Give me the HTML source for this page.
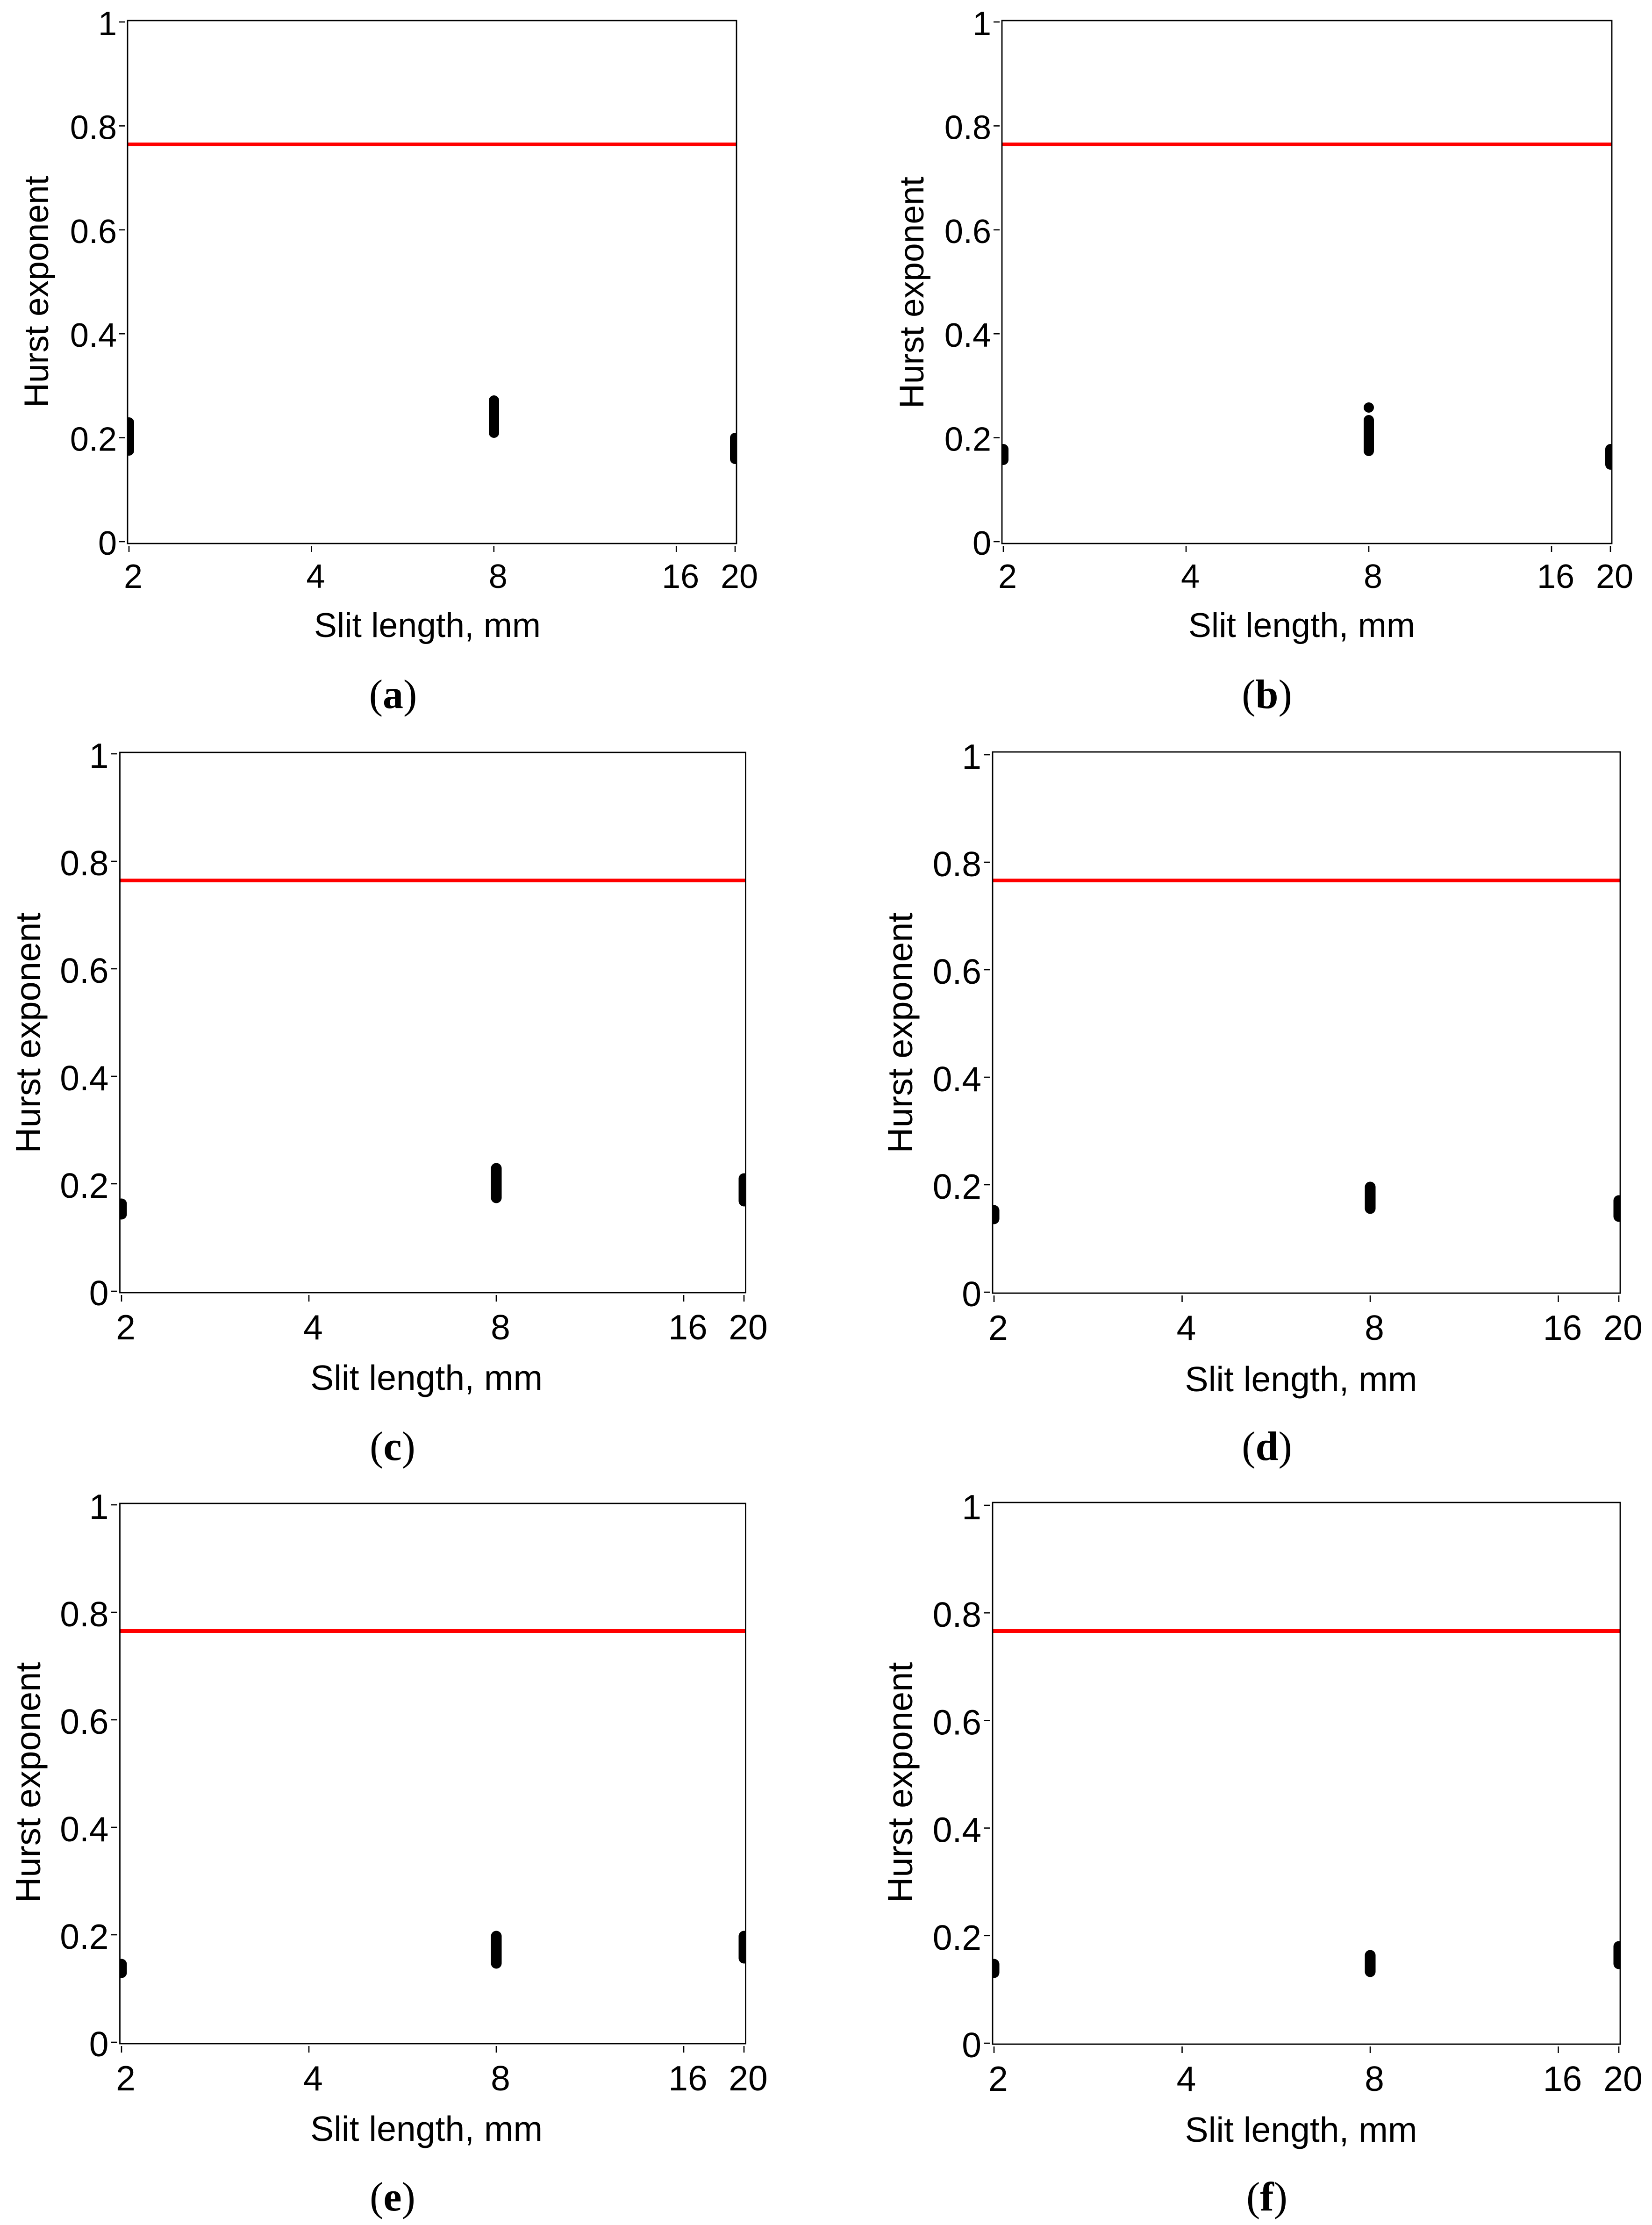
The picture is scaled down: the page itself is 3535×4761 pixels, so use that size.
<!DOCTYPE html>
<html>
<head>
<meta charset="utf-8">
<style>
html,body{margin:0;padding:0;background:#fff;}
svg{display:block;}
.t{font-family:"Liberation Sans",Arial,sans-serif;fill:#000;}
.cap{font-family:"Liberation Serif","Times New Roman",serif;fill:#000;font-size:88px;}
</style>
</head>
<body>
<svg xmlns="http://www.w3.org/2000/svg" width="3535" height="4761" viewBox="0 0 3535 4761">
<rect x="0" y="0" width="3535" height="4761" fill="#fff"/>
<defs>
<clipPath id="ca"><rect x="273" y="44" width="1303" height="1119"/></clipPath>
<clipPath id="cb"><rect x="2144" y="44" width="1305" height="1119"/></clipPath>
<clipPath id="cc"><rect x="256.5" y="1610" width="1339" height="1156"/></clipPath>
<clipPath id="cd"><rect x="2124" y="1609" width="1343" height="1158"/></clipPath>
<clipPath id="ce"><rect x="256.5" y="3217" width="1339" height="1156"/></clipPath>
<clipPath id="cf"><rect x="2124" y="3215" width="1343" height="1159"/></clipPath>
</defs>

<!-- ================= Panel a ================= -->
<g>
<line x1="273" y1="309" x2="1576" y2="309" stroke="#ff0000" stroke-width="8"/>
<g clip-path="url(#ca)" stroke="#000" stroke-linecap="round" stroke-width="22">
<line x1="276" y1="904" x2="276" y2="964"/>
<line x1="1057" y1="857" x2="1057" y2="926"/>
<line x1="1573" y1="937" x2="1573" y2="982"/>
</g>
<rect x="273" y="44" width="1303" height="1119" fill="none" stroke="#000" stroke-width="2.8"/>
<g stroke="#000" stroke-width="2.6">
<line x1="255" y1="1159" x2="268" y2="1159"/>
<line x1="255" y1="936.6" x2="268" y2="936.6"/>
<line x1="255" y1="714.2" x2="268" y2="714.2"/>
<line x1="255" y1="491.8" x2="268" y2="491.8"/>
<line x1="255" y1="269.4" x2="268" y2="269.4"/>
<line x1="255" y1="47" x2="268" y2="47"/>
<line x1="276" y1="1168" x2="276" y2="1181"/>
<line x1="666.4" y1="1168" x2="666.4" y2="1181"/>
<line x1="1056.8" y1="1168" x2="1056.8" y2="1181"/>
<line x1="1447.2" y1="1168" x2="1447.2" y2="1181"/>
<line x1="1573" y1="1168" x2="1573" y2="1181"/>
</g>
<g class="t" font-size="72" text-anchor="end">
<text x="250" y="1187">0</text>
<text x="250" y="964.6">0.2</text>
<text x="250" y="742.2">0.4</text>
<text x="250" y="519.8">0.6</text>
<text x="250" y="297.4">0.8</text>
<text x="250" y="75">1</text>
</g>
<g class="t" font-size="72" text-anchor="middle">
<text x="285" y="1258">2</text>
<text x="675.4" y="1258">4</text>
<text x="1065.8" y="1258">8</text>
<text x="1456.2" y="1258">16</text>
<text x="1582" y="1258">20</text>
</g>
<text class="t" font-size="73" text-anchor="middle" transform="translate(103,624) rotate(-90)" textLength="496" lengthAdjust="spacingAndGlyphs">Hurst exponent</text>
<text class="t" font-size="73" text-anchor="middle" x="914.5" y="1363" textLength="485" lengthAdjust="spacingAndGlyphs">Slit length, mm</text>
<text class="cap" x="841" y="1515" text-anchor="middle">(<tspan font-weight="bold">a</tspan>)</text>
</g>

<!-- ================= Panel b ================= -->
<g>
<line x1="2144" y1="309" x2="3449" y2="309" stroke="#ff0000" stroke-width="8"/>
<g clip-path="url(#cb)" stroke="#000" stroke-linecap="round" stroke-width="22">
<line x1="2147" y1="961" x2="2147" y2="984"/>
<line x1="2929" y1="899" x2="2929" y2="965"/>
<line x1="3446" y1="961" x2="3446" y2="994"/>
</g>
<circle cx="2929" cy="872" r="11" fill="#000"/>
<rect x="2144" y="44" width="1305" height="1119" fill="none" stroke="#000" stroke-width="2.8"/>
<g stroke="#000" stroke-width="2.6">
<line x1="2126" y1="1159" x2="2139" y2="1159"/>
<line x1="2126" y1="936.6" x2="2139" y2="936.6"/>
<line x1="2126" y1="714.2" x2="2139" y2="714.2"/>
<line x1="2126" y1="491.8" x2="2139" y2="491.8"/>
<line x1="2126" y1="269.4" x2="2139" y2="269.4"/>
<line x1="2126" y1="47" x2="2139" y2="47"/>
<line x1="2147" y1="1168" x2="2147" y2="1181"/>
<line x1="2538" y1="1168" x2="2538" y2="1181"/>
<line x1="2929" y1="1168" x2="2929" y2="1181"/>
<line x1="3320" y1="1168" x2="3320" y2="1181"/>
<line x1="3446" y1="1168" x2="3446" y2="1181"/>
</g>
<g class="t" font-size="72" text-anchor="end">
<text x="2121" y="1187">0</text>
<text x="2121" y="964.6">0.2</text>
<text x="2121" y="742.2">0.4</text>
<text x="2121" y="519.8">0.6</text>
<text x="2121" y="297.4">0.8</text>
<text x="2121" y="75">1</text>
</g>
<g class="t" font-size="72" text-anchor="middle">
<text x="2156" y="1258">2</text>
<text x="2547" y="1258">4</text>
<text x="2938" y="1258">8</text>
<text x="3329" y="1258">16</text>
<text x="3455" y="1258">20</text>
</g>
<text class="t" font-size="73" text-anchor="middle" transform="translate(1976,626) rotate(-90)" textLength="496" lengthAdjust="spacingAndGlyphs">Hurst exponent</text>
<text class="t" font-size="73" text-anchor="middle" x="2785.5" y="1363" textLength="485" lengthAdjust="spacingAndGlyphs">Slit length, mm</text>
<text class="cap" x="2711" y="1515" text-anchor="middle">(<tspan font-weight="bold">b</tspan>)</text>
</g>

<!-- ================= Panel c ================= -->
<g>
<line x1="256.5" y1="1884" x2="1595.5" y2="1884" stroke="#ff0000" stroke-width="8"/>
<g clip-path="url(#cc)" stroke="#000" stroke-linecap="round" stroke-width="23">
<line x1="260" y1="2576" x2="260" y2="2598"/>
<line x1="1062" y1="2500" x2="1062" y2="2563"/>
<line x1="1592" y1="2522" x2="1592" y2="2570"/>
</g>
<rect x="256.5" y="1610" width="1339" height="1156" fill="none" stroke="#000" stroke-width="2.8"/>
<g stroke="#000" stroke-width="2.6">
<line x1="237.5" y1="2763" x2="250.5" y2="2763"/>
<line x1="237.5" y1="2533" x2="250.5" y2="2533"/>
<line x1="237.5" y1="2303" x2="250.5" y2="2303"/>
<line x1="237.5" y1="2073" x2="250.5" y2="2073"/>
<line x1="237.5" y1="1843" x2="250.5" y2="1843"/>
<line x1="237.5" y1="1613" x2="250.5" y2="1613"/>
<line x1="260" y1="2771" x2="260" y2="2785"/>
<line x1="661" y1="2771" x2="661" y2="2785"/>
<line x1="1062" y1="2771" x2="1062" y2="2785"/>
<line x1="1463" y1="2771" x2="1463" y2="2785"/>
<line x1="1592" y1="2771" x2="1592" y2="2785"/>
</g>
<g class="t" font-size="75" text-anchor="end">
<text x="232.5" y="2793">0</text>
<text x="232.5" y="2563">0.2</text>
<text x="232.5" y="2333">0.4</text>
<text x="232.5" y="2103">0.6</text>
<text x="232.5" y="1873">0.8</text>
<text x="232.5" y="1643">1</text>
</g>
<g class="t" font-size="75" text-anchor="middle">
<text x="269" y="2866">2</text>
<text x="670" y="2866">4</text>
<text x="1071" y="2866">8</text>
<text x="1472" y="2866">16</text>
<text x="1601" y="2866">20</text>
</g>
<text class="t" font-size="75" text-anchor="middle" transform="translate(86,2210) rotate(-90)" textLength="515" lengthAdjust="spacingAndGlyphs">Hurst exponent</text>
<text class="t" font-size="75" text-anchor="middle" x="912.6" y="2974" textLength="497" lengthAdjust="spacingAndGlyphs">Slit length, mm</text>
<text class="cap" x="840" y="3124" text-anchor="middle">(<tspan font-weight="bold">c</tspan>)</text>
</g>

<!-- ================= Panel d ================= -->
<g>
<line x1="2124" y1="1884" x2="3467" y2="1884" stroke="#ff0000" stroke-width="8"/>
<g clip-path="url(#cd)" stroke="#000" stroke-linecap="round" stroke-width="23">
<line x1="2127" y1="2590" x2="2127" y2="2608"/>
<line x1="2932" y1="2540" x2="2932" y2="2586"/>
<line x1="3464" y1="2569" x2="3464" y2="2603"/>
</g>
<rect x="2124" y="1609" width="1343" height="1158" fill="none" stroke="#000" stroke-width="2.8"/>
<g stroke="#000" stroke-width="2.6">
<line x1="2105" y1="2765" x2="2118" y2="2765"/>
<line x1="2105" y1="2535" x2="2118" y2="2535"/>
<line x1="2105" y1="2305" x2="2118" y2="2305"/>
<line x1="2105" y1="2075" x2="2118" y2="2075"/>
<line x1="2105" y1="1845" x2="2118" y2="1845"/>
<line x1="2105" y1="1615" x2="2118" y2="1615"/>
<line x1="2127" y1="2772" x2="2127" y2="2786"/>
<line x1="2529.5" y1="2772" x2="2529.5" y2="2786"/>
<line x1="2932" y1="2772" x2="2932" y2="2786"/>
<line x1="3334.5" y1="2772" x2="3334.5" y2="2786"/>
<line x1="3464" y1="2772" x2="3464" y2="2786"/>
</g>
<g class="t" font-size="75" text-anchor="end">
<text x="2100" y="2795">0</text>
<text x="2100" y="2565">0.2</text>
<text x="2100" y="2335">0.4</text>
<text x="2100" y="2105">0.6</text>
<text x="2100" y="1875">0.8</text>
<text x="2100" y="1645">1</text>
</g>
<g class="t" font-size="75" text-anchor="middle">
<text x="2136" y="2867">2</text>
<text x="2538.5" y="2867">4</text>
<text x="2941" y="2867">8</text>
<text x="3343.5" y="2867">16</text>
<text x="3473" y="2867">20</text>
</g>
<text class="t" font-size="75" text-anchor="middle" transform="translate(1952,2210) rotate(-90)" textLength="515" lengthAdjust="spacingAndGlyphs">Hurst exponent</text>
<text class="t" font-size="75" text-anchor="middle" x="2784" y="2977" textLength="497" lengthAdjust="spacingAndGlyphs">Slit length, mm</text>
<text class="cap" x="2711" y="3124" text-anchor="middle">(<tspan font-weight="bold">d</tspan>)</text>
</g>

<!-- ================= Panel e ================= -->
<g>
<line x1="256.5" y1="3490" x2="1595.5" y2="3490" stroke="#ff0000" stroke-width="8"/>
<g clip-path="url(#ce)" stroke="#000" stroke-linecap="round" stroke-width="23">
<line x1="260" y1="4203" x2="260" y2="4221"/>
<line x1="1062" y1="4143" x2="1062" y2="4201"/>
<line x1="1592" y1="4143" x2="1592" y2="4190"/>
</g>
<rect x="256.5" y="3217" width="1339" height="1156" fill="none" stroke="#000" stroke-width="2.8"/>
<g stroke="#000" stroke-width="2.6">
<line x1="237.5" y1="4370" x2="250.5" y2="4370"/>
<line x1="237.5" y1="4140" x2="250.5" y2="4140"/>
<line x1="237.5" y1="3910" x2="250.5" y2="3910"/>
<line x1="237.5" y1="3680" x2="250.5" y2="3680"/>
<line x1="237.5" y1="3450" x2="250.5" y2="3450"/>
<line x1="237.5" y1="3220" x2="250.5" y2="3220"/>
<line x1="260" y1="4378" x2="260" y2="4392"/>
<line x1="661" y1="4378" x2="661" y2="4392"/>
<line x1="1062" y1="4378" x2="1062" y2="4392"/>
<line x1="1463" y1="4378" x2="1463" y2="4392"/>
<line x1="1592" y1="4378" x2="1592" y2="4392"/>
</g>
<g class="t" font-size="75" text-anchor="end">
<text x="232.5" y="4400">0</text>
<text x="232.5" y="4170">0.2</text>
<text x="232.5" y="3940">0.4</text>
<text x="232.5" y="3710">0.6</text>
<text x="232.5" y="3480">0.8</text>
<text x="232.5" y="3250">1</text>
</g>
<g class="t" font-size="75" text-anchor="middle">
<text x="269" y="4473">2</text>
<text x="670" y="4473">4</text>
<text x="1071" y="4473">8</text>
<text x="1472" y="4473">16</text>
<text x="1601" y="4473">20</text>
</g>
<text class="t" font-size="75" text-anchor="middle" transform="translate(86,3814) rotate(-90)" textLength="515" lengthAdjust="spacingAndGlyphs">Hurst exponent</text>
<text class="t" font-size="75" text-anchor="middle" x="912.6" y="4581" textLength="497" lengthAdjust="spacingAndGlyphs">Slit length, mm</text>
<text class="cap" x="840" y="4730" text-anchor="middle">(<tspan font-weight="bold">e</tspan>)</text>
</g>

<!-- ================= Panel f ================= -->
<g>
<line x1="2124" y1="3490" x2="3467" y2="3490" stroke="#ff0000" stroke-width="8"/>
<g clip-path="url(#cf)" stroke="#000" stroke-linecap="round" stroke-width="23">
<line x1="2127" y1="4203" x2="2127" y2="4221"/>
<line x1="2932" y1="4184" x2="2932" y2="4219"/>
<line x1="3464" y1="4165" x2="3464" y2="4202"/>
</g>
<rect x="2124" y="3215" width="1343" height="1159" fill="none" stroke="#000" stroke-width="2.8"/>
<g stroke="#000" stroke-width="2.6">
<line x1="2105" y1="4372" x2="2118" y2="4372"/>
<line x1="2105" y1="4141.8" x2="2118" y2="4141.8"/>
<line x1="2105" y1="3911.6" x2="2118" y2="3911.6"/>
<line x1="2105" y1="3681.4" x2="2118" y2="3681.4"/>
<line x1="2105" y1="3451.2" x2="2118" y2="3451.2"/>
<line x1="2105" y1="3221" x2="2118" y2="3221"/>
<line x1="2127" y1="4379" x2="2127" y2="4393"/>
<line x1="2529.5" y1="4379" x2="2529.5" y2="4393"/>
<line x1="2932" y1="4379" x2="2932" y2="4393"/>
<line x1="3334.5" y1="4379" x2="3334.5" y2="4393"/>
<line x1="3464" y1="4379" x2="3464" y2="4393"/>
</g>
<g class="t" font-size="75" text-anchor="end">
<text x="2100" y="4402">0</text>
<text x="2100" y="4171.8">0.2</text>
<text x="2100" y="3941.6">0.4</text>
<text x="2100" y="3711.4">0.6</text>
<text x="2100" y="3481.2">0.8</text>
<text x="2100" y="3251">1</text>
</g>
<g class="t" font-size="75" text-anchor="middle">
<text x="2136" y="4474">2</text>
<text x="2538.5" y="4474">4</text>
<text x="2941" y="4474">8</text>
<text x="3343.5" y="4474">16</text>
<text x="3473" y="4474">20</text>
</g>
<text class="t" font-size="75" text-anchor="middle" transform="translate(1952,3814) rotate(-90)" textLength="515" lengthAdjust="spacingAndGlyphs">Hurst exponent</text>
<text class="t" font-size="75" text-anchor="middle" x="2784" y="4583" textLength="497" lengthAdjust="spacingAndGlyphs">Slit length, mm</text>
<text class="cap" x="2711" y="4730" text-anchor="middle">(<tspan font-weight="bold">f</tspan>)</text>
</g>
</svg>
</body>
</html>
